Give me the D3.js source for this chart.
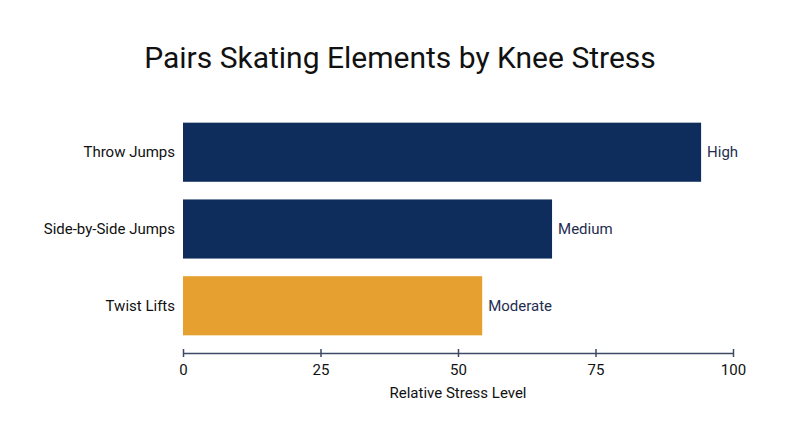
<!DOCTYPE html>
<html>
<head>
<meta charset="utf-8">
<script src="https://cdn.jsdelivr.net/npm/d3@7"></script>
<style>
  body { margin: 0; background: #fff; }
  svg { font-family: Roboto, "Noto Sans", sans-serif; }
</style>
</head>
<body>
<svg id="chart" width="800" height="447"></svg>
<script>
// chart data
const elements = ['Throw Jumps', 'Side-by-Side Jumps', 'Twist Lifts'];
const stress = [94.2, 67.1, 54.4];
const levels = ['High', 'Medium', 'Moderate'];
const barColors = ['#0f2d5c', '#0f2d5c', '#e6a02f'];
const xTicks = [0, 25, 50, 75, 100];

const data = elements.map((name, i) => ({
  name, value: stress[i], level: levels[i], color: barColors[i]
}));

const svg = d3.select('#chart');
const margin = { top: 105, right: 67, bottom: 94, left: 183 };
const width = 800 - margin.left - margin.right;
const height = 447 - margin.top - margin.bottom;

const g = svg.append('g')
  .attr('transform', `translate(${margin.left},${margin.top})`);

const x = d3.scaleLinear().domain([0, 100]).range([0, width]);
const y = d3.scaleBand().domain(elements).range([0, height]).padding(0.23);

// title
svg.append('text')
  .attr('x', 400)
  .attr('y', 68)
  .attr('text-anchor', 'middle')
  .attr('font-size', 30)
  .attr('fill', '#111')
  .text('Pairs Skating Elements by Knee Stress');

// bars
g.selectAll('.bar')
  .data(data)
  .enter().append('rect')
  .attr('class', 'bar')
  .attr('x', 0)
  .attr('y', d => y(d.name))
  .attr('width', d => x(d.value))
  .attr('height', y.bandwidth())
  .attr('fill', d => d.color);

// value labels
g.selectAll('.lvl')
  .data(data)
  .enter().append('text')
  .attr('class', 'lvl')
  .attr('x', d => x(d.value) + 6)
  .attr('y', d => y(d.name) + y.bandwidth() / 2)
  .attr('dy', '0.35em')
  .attr('font-size', 15)
  .attr('fill', '#1f2d50')
  .text(d => d.level);

// category labels
g.selectAll('.cat')
  .data(data)
  .enter().append('text')
  .attr('class', 'cat')
  .attr('x', -8)
  .attr('y', d => y(d.name) + y.bandwidth() / 2)
  .attr('dy', '0.35em')
  .attr('text-anchor', 'end')
  .attr('font-size', 15)
  .attr('fill', '#111')
  .text(d => d.name);

// x axis
const xAxis = g.append('g')
  .attr('transform', `translate(0,${height})`)
  .call(d3.axisBottom(x).tickValues(xTicks).tickSize(4).tickSizeOuter(0).tickPadding(7));
xAxis.select('.domain').attr('stroke', '#3d4a66').attr('stroke-width', 1.5);
xAxis.selectAll('.tick line').attr('stroke', '#3d4a66').attr('stroke-width', 1.5).attr('y1', -4);
xAxis.selectAll('.tick text').attr('font-size', 15).attr('fill', '#111')
  .attr('font-family', 'Roboto, "Noto Sans", sans-serif');

svg.append('text')
  .attr('x', margin.left + width / 2)
  .attr('y', 398)
  .attr('text-anchor', 'middle')
  .attr('font-size', 15)
  .attr('fill', '#111')
  .text('Relative Stress Level');
</script>
</body>
</html>
